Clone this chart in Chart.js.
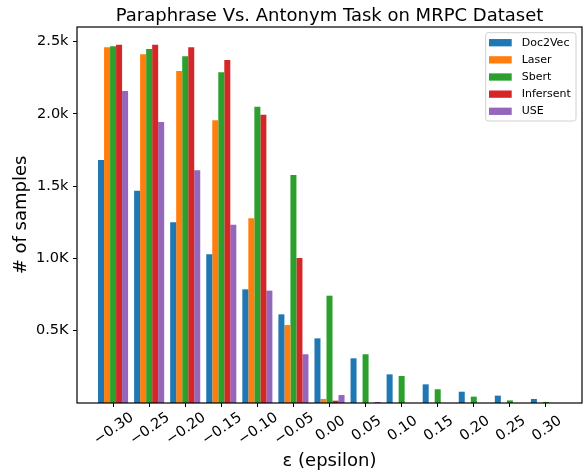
<!DOCTYPE html>
<html>
<head>
<meta charset="utf-8">
<script src="https://cdn.jsdelivr.net/npm/chart.js@4.4.0/dist/chart.umd.min.js"></script>
<style>
body { margin: 0; background: #fff; }
#wrap { width: 585px; height: 476px; }
</style>
</head>
<body>
<div id="wrap"><canvas id="chart"></canvas></div>
<script>
// categories on the x axis
const epsilons = [-0.30, -0.25, -0.20, -0.15, -0.10, -0.05, 0.00, 0.05, 0.10, 0.15, 0.20, 0.25, 0.30];
const xTickLabels = ['\u22120.30', '\u22120.25', '\u22120.20', '\u22120.15', '\u22120.10', '\u22120.05',
  '0.00', '0.05', '0.10', '0.15', '0.20', '0.25', '0.30'];
const yTickValues = [500, 1000, 1500, 2000, 2500];
const yTickLabels = ['0.5K', '1.0K', '1.5k', '2.0k', '2.5k'];

// series (# of samples)
const seriesNames = ['Doc2Vec', 'Laser', 'Sbert', 'Infersent', 'USE'];
const doc2vec = [1680, 1468, 1250, 1028, 786, 613, 447, 309, 198, 129, 78, 51, 28];
const laser = [2460, 2411, 2296, 1955, 1277, 539, 28, 0, 0, 0, 0, 0, 0];
const sbert = [2467, 2448, 2398, 2287, 2049, 1577, 742, 337, 187, 95, 44, 18, 7];
const infersent = [2478, 2478, 2460, 2372, 1994, 1003, 16, 0, 0, 0, 0, 0, 0];
const use = [2158, 1943, 1609, 1233, 777, 337, 55, 7, 0, 0, 0, 0, 0];

const colors = ['#1f77b4', '#ff7f0e', '#2ca02c', '#d62728', '#9467bd'];
const seriesValues = [doc2vec, laser, sbert, infersent, use];

Chart.defaults.font.family = "'DejaVu Sans', sans-serif";
Chart.defaults.color = '#000';

// frame round the plot area + legend in the upper right corner
const framePlugin = {
  id: 'frame',
  afterDraw(chart) {
    const ctx = chart.ctx;
    const a = chart.chartArea;
    ctx.save();
    ctx.strokeStyle = '#000';
    ctx.lineWidth = 1.2;
    ctx.strokeRect(a.left, a.top, a.right - a.left, a.bottom - a.top);

    // legend
    const w = 90.3, h = 88.3;
    const x0 = a.right - 6 - w, y0 = a.top + 5.7;
    ctx.beginPath();
    ctx.roundRect(x0, y0, w, h, 2.5);
    ctx.fillStyle = 'rgba(255,255,255,0.8)';
    ctx.fill();
    ctx.strokeStyle = '#d0d0d0';
    ctx.lineWidth = 1;
    ctx.stroke();
    ctx.font = "11px 'DejaVu Sans'";
    ctx.textBaseline = 'middle';
    ctx.textAlign = 'left';
    chart.data.datasets.forEach((ds, i) => {
      const cy = y0 + 10 + i * 17.15;
      ctx.fillStyle = ds.backgroundColor;
      ctx.fillRect(x0 + 3.3, cy - 3.65, 22.7, 7.3);
      ctx.fillStyle = '#000';
      ctx.fillText(ds.label, x0 + 36, cy);
    });
    ctx.restore();
  }
};

new Chart(document.getElementById('chart'), {
  type: 'bar',
  data: {
    labels: epsilons,
    datasets: seriesNames.map((name, i) => ({
      label: name,
      data: seriesValues[i],
      backgroundColor: colors[i],
      borderWidth: 0,
      categoryPercentage: 5 / 6,
      barPercentage: 1
    }))
  },
  options: {
    responsive: true,
    maintainAspectRatio: false,
    animation: false,
    layout: { padding: { left: 0, right: 3, top: 0, bottom: 0 } },
    plugins: {
      legend: { display: false },
      tooltip: { enabled: false },
      title: {
        display: true,
        text: 'Paraphrase Vs. Antonym Task on MRPC Dataset',
        fullSize: false,
        font: { size: 18, weight: 'normal', lineHeight: 1.1 },
        color: '#000',
        padding: { top: 6.9, bottom: 0.3 }
      }
    },
    scales: {
      x: {
        type: 'linear',
        min: -0.35,
        max: 0.35,
        offset: false,
        grid: { display: true, offset: false, drawOnChartArea: false, drawTicks: true, tickLength: 4, tickColor: '#000', lineWidth: 1 },
        border: { display: false },
        afterBuildTicks: (scale) => { scale.ticks = epsilons.map(v => ({ value: v })); },
        afterFit: (scale) => { scale.height = 73; },
        ticks: {
          autoSkip: false,
          minRotation: 35,
          maxRotation: 35,
          labelOffset: 19,
          padding: 2,
          font: { size: 14.5 },
          color: '#000',
          callback: (value, index) => {
            const lbl = xTickLabels[index];
            return lbl.startsWith('\u2212') ? lbl : lbl + '\u2009\u2009';
          }
        },
        title: {
          display: true,
          text: '\u03b5 (epsilon)',
          font: { size: 18 },
          color: '#000',
          padding: { top: 0, bottom: 4 }
        }
      },
      y: {
        min: 0,
        max: 2600,
        grid: { display: true, drawOnChartArea: false, drawTicks: true, tickLength: 4, tickColor: '#000', lineWidth: 1 },
        border: { display: false },
        afterBuildTicks: (scale) => { scale.ticks = yTickValues.map(v => ({ value: v })); },
        afterFit: (scale) => { scale.width = 77; },
        ticks: {
          padding: 4.5,
          font: { size: 14.5 },
          color: '#000',
          callback: (value, index) => yTickLabels[index]
        },
        title: {
          display: true,
          text: '# of samples',
          font: { size: 18 },
          color: '#000',
          padding: { top: 11, bottom: 0 }
        }
      }
    }
  },
  plugins: [framePlugin]
});
</script>
</body>
</html>
